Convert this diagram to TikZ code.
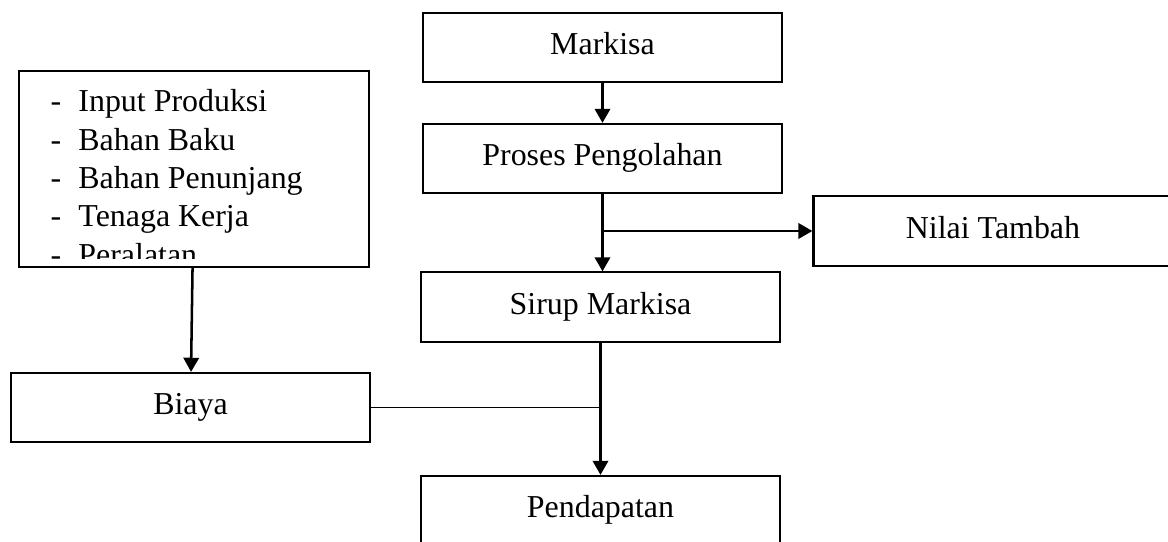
\documentclass[tikz,border=0pt]{standalone}
\usepackage{fontspec}
\setmainfont{Liberation Serif}
\usetikzlibrary{arrows.meta,calc}

\begin{document}
\begin{tikzpicture}[x=0.376pt, y=-0.376pt,
      box/.style={rectangle, draw, line width=0.8pt, inner sep=0pt,
                  minimum width=135pt, minimum height=26pt,
                  text height=8.2pt, text depth=2.6pt,
                  font=\fontsize{12}{13.8}\selectfont},
      itm/.style={anchor=base west, inner sep=0pt,
                  font=\fontsize{12}{13.8}\selectfont},
      arr/.style={-{Triangle[length=5.3pt, width=5.8pt]}, line width=0.95pt},
      link/.style={line width=0.5pt},
    ]

    % Frame
    \clip (0,0) rectangle (1168,542);

    % Main chain
    \node[box] (markisa) at (602.5, 47.5) {Markisa};
    \node[box] (proses) at (602.5, 158.5) {Proses Pengolahan};
    \node[box] (sirup) at (600.5, 307) {Sirup Markisa};
    \node[box] (pendapatan) at (600.5, 510.5) {Pendapatan};

    % Side boxes
    \node[box] (nilai) at (993, 231) {Nilai Tambah};
    \node[box, minimum width=131.6pt, minimum height=73.7pt] (inputbox) at (194, 169) {};
    \node[box] (biaya) at (190.5, 407.5) {Biaya};

    % Input list (cut off by the box margin)
    \begin{scope}
      \clip (inputbox.north west) rectangle ($(inputbox.south east)+(0,-10)$);
      \foreach \txt [count=\i from 0] in {Input Produksi, Bahan Baku,
          Bahan Penunjang, Tenaga Kerja, Peralatan}
        \node[itm] (item\i) at (50, 112+38.3*\i) {\makebox[10.5pt][l]{-}\txt};
    \end{scope}

    % Junctions
    \coordinate (branch) at (proses.south |- nilai.west);
    \coordinate (join) at (sirup.south |- biaya.east);

    % Arrows
    \draw[arr] (markisa) -- (proses);
    \draw[arr] (proses.south) -- (proses.south |- sirup.north);
    \draw[arr] (branch) -- (nilai);
    \draw[arr] (inputbox) -- (biaya);
    \draw[arr] (sirup) -- (pendapatan);
    \draw[link] (biaya) -- (join);

\end{tikzpicture}
\end{document}
